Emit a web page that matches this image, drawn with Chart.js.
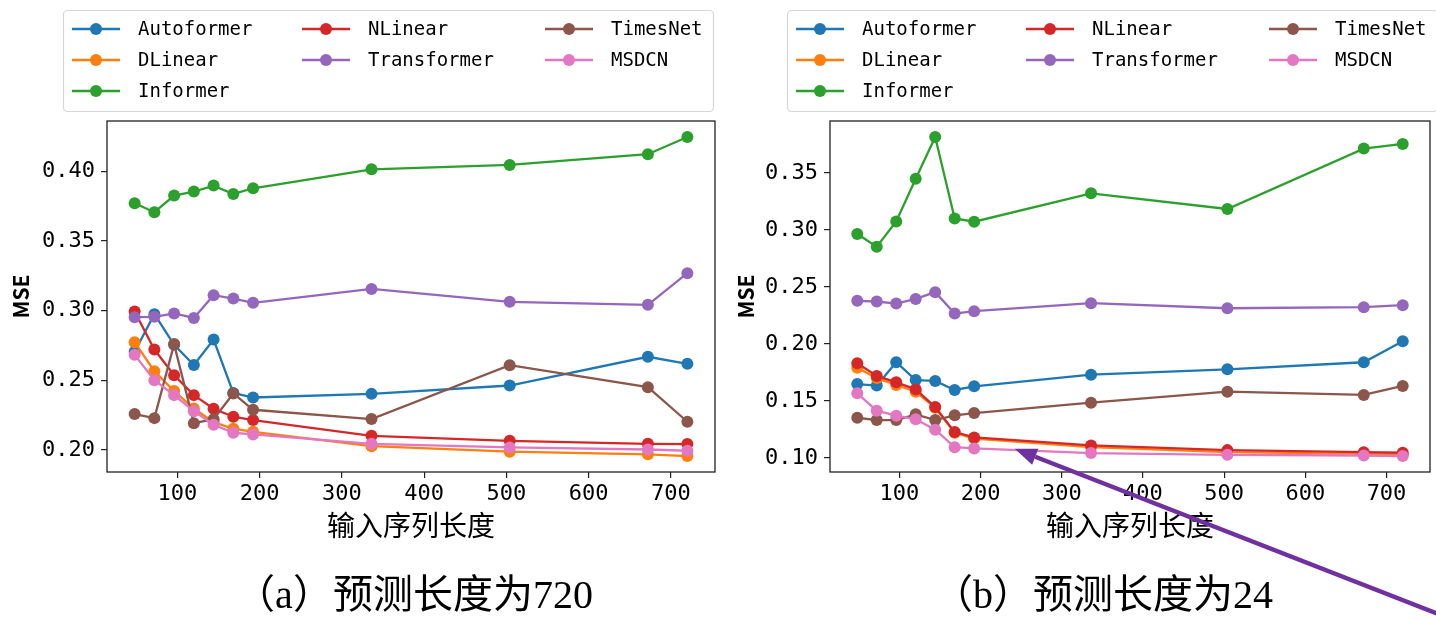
<!DOCTYPE html>
<html>
<head>
<meta charset="utf-8">
<script src="https://cdn.jsdelivr.net/npm/chart.js@4.4.0/dist/chart.umd.min.js"></script>
<style>
  html, body { margin: 0; padding: 0; background: #fff; }
  body { width: 1436px; height: 619px; position: relative; overflow: hidden; }
  .panel { position: absolute; top: 0; height: 619px; }
  #panelA { left: 0; width: 730px; }
  #panelB { left: 730px; width: 706px; }
</style>
</head>
<body>
<div class="panel" id="panelA"><canvas id="chartA" width="730" height="619"></canvas></div>
<div class="panel" id="panelB"><canvas id="chartB" width="706" height="619"></canvas></div>
<script>
const inputLengths = [48, 72, 96, 120, 144, 168, 192, 336, 504, 672, 720];
const modelNames = ['Autoformer', 'DLinear', 'Informer', 'NLinear', 'Transformer', 'TimesNet', 'MSDCN'];
const modelColors = ['#1f77b4', '#ff7f0e', '#2ca02c', '#d62728', '#9467bd', '#8c564b', '#e377c2'];
const xTicks = [100, 200, 300, 400, 500, 600, 700];
const yTicksA = [0.20, 0.25, 0.30, 0.35, 0.40];
const yTicksB = [0.10, 0.15, 0.20, 0.25, 0.30, 0.35];

// (a) prediction length 720
const autoformerA = [0.2705, 0.2975, 0.2755, 0.2610, 0.2793, 0.2410, 0.2377, 0.2403, 0.2463, 0.2669, 0.2619];
const dlinearA = [0.2774, 0.2566, 0.2423, 0.2298, 0.2200, 0.2153, 0.2131, 0.2028, 0.1988, 0.1969, 0.1957];
const informerA = [0.3770, 0.3706, 0.3826, 0.3854, 0.3897, 0.3837, 0.3878, 0.4014, 0.4045, 0.4122, 0.4246];
const nlinearA = [0.2994, 0.2721, 0.2537, 0.2394, 0.2296, 0.2239, 0.2215, 0.2102, 0.2066, 0.2045, 0.2043];
const transformerA = [0.2953, 0.2956, 0.2980, 0.2948, 0.3111, 0.3087, 0.3056, 0.3156, 0.3063, 0.3042, 0.3269];
const timesnetA = [0.2258, 0.2229, 0.2760, 0.2193, 0.2221, 0.2406, 0.2289, 0.2222, 0.2609, 0.2451, 0.2203];
const msdcnA = [0.2683, 0.2501, 0.2394, 0.2279, 0.2181, 0.2124, 0.2112, 0.2045, 0.2019, 0.2004, 0.1995];

// (b) prediction length 24
const autoformerB = [0.1648, 0.1634, 0.1839, 0.1683, 0.1675, 0.1596, 0.1628, 0.1730, 0.1777, 0.1839, 0.2023];
const dlinearB = [0.1790, 0.1700, 0.1640, 0.1580, 0.1440, 0.1220, 0.1170, 0.1095, 0.1050, 0.1035, 0.1030];
const informerB = [0.2964, 0.2852, 0.3075, 0.3450, 0.3816, 0.3101, 0.3072, 0.3321, 0.3184, 0.3714, 0.3755];
const nlinearB = [0.1830, 0.1719, 0.1663, 0.1601, 0.1446, 0.1226, 0.1179, 0.1109, 0.1068, 0.1050, 0.1045];
const transformerB = [0.2378, 0.2372, 0.2354, 0.2395, 0.2454, 0.2266, 0.2287, 0.2357, 0.2313, 0.2322, 0.2340];
const timesnetB = [0.1352, 0.1332, 0.1332, 0.1382, 0.1332, 0.1373, 0.1393, 0.1484, 0.1581, 0.1552, 0.1631];
const msdcnB = [0.1566, 0.1414, 0.1370, 0.1338, 0.1247, 0.1094, 0.1083, 0.1042, 0.1027, 0.1021, 0.1016];

const seriesA = [autoformerA, dlinearA, informerA, nlinearA, transformerA, timesnetA, msdcnA];
const seriesB = [autoformerB, dlinearB, informerB, nlinearB, transformerB, timesnetB, msdcnB];

// matplotlib style 5% autoscale margins
function padRange(values) {
    const lo = Math.min(...values);
    const hi = Math.max(...values);
    const m = (hi - lo) * 0.05;
    return [lo - m, hi + m];
}

const tickFont = { family: '"DejaVu Sans Mono", monospace', size: 22 };
const legendFont = '19px "DejaVu Sans Mono", monospace';
const captionFont = '40px "Liberation Serif", "Noto Sans CJK SC", serif';

// column-major legend slots like matplotlib ncol=3 (7 items -> 3,2,2)
function legendSlots(n, ncol) {
    const base = Math.floor(n / ncol), extra = n % ncol;
    const slots = [];
    for (let c = 0; c < ncol; c++) {
        const count = base + (c < extra ? 1 : 0);
        for (let r = 0; r < count; r++) slots.push({ col: c, row: r });
    }
    return slots;
}

const decorPlugin = {
    id: 'decor',
    afterDatasetsDraw(chart) {
        const { ctx, chartArea } = chart;
        ctx.save();
        ctx.strokeStyle = '#222';
        ctx.lineWidth = 1.3;
        ctx.strokeRect(chartArea.left, chartArea.top, chartArea.right - chartArea.left, chartArea.bottom - chartArea.top);
        ctx.restore();
    },
    afterDraw(chart, args, opts) {
        const ctx = chart.ctx;
        ctx.save();

        // legend box
        const bx = opts.legendLeft, by = 10, bw = 650, bh = 101;
        ctx.fillStyle = 'rgba(255,255,255,0.8)';
        ctx.strokeStyle = '#d6d6d6';
        ctx.lineWidth = 1.2;
        ctx.beginPath();
        ctx.roundRect(bx + 0.5, by + 0.5, bw, bh, 4);
        ctx.fill();
        ctx.stroke();

        const colStart = [9, 239, 482];
        const slots = legendSlots(chart.data.datasets.length, 3);
        ctx.font = legendFont;
        ctx.textBaseline = 'middle';
        ctx.textAlign = 'left';
        chart.data.datasets.forEach((ds, i) => {
            const x0 = bx + colStart[slots[i].col];
            const y0 = by + 19 + slots[i].row * 31;
            ctx.strokeStyle = ds.borderColor;
            ctx.lineWidth = 2.3;
            ctx.beginPath();
            ctx.moveTo(x0, y0);
            ctx.lineTo(x0 + 48, y0);
            ctx.stroke();
            ctx.fillStyle = ds.borderColor;
            ctx.beginPath();
            ctx.arc(x0 + 24, y0, 6, 0, Math.PI * 2);
            ctx.fill();
            ctx.fillStyle = '#000';
            ctx.fillText(ds.label, x0 + 66, y0 + 1);
        });

        // panel caption
        ctx.font = captionFont;
        ctx.fillStyle = '#000';
        ctx.textAlign = 'center';
        ctx.textBaseline = 'middle';
        ctx.fillText(opts.caption, opts.captionX, 597);

        // annotation arrow
        if (opts.arrow) {
            const tx = chart.scales.x.getPixelForValue(opts.arrow.x);
            const ty = chart.scales.y.getPixelForValue(opts.arrow.y);
            const ex = chart.width + 2;
            const ey = ty + (ex - tx) * opts.arrow.slope;
            const ang = Math.atan2(ey - ty, ex - tx);
            const hl = 22, hw = 8.5;
            const bxh = tx + Math.cos(ang) * hl, byh = ty + Math.sin(ang) * hl;
            ctx.strokeStyle = '#7030a0';
            ctx.fillStyle = '#7030a0';
            ctx.lineWidth = 4.5;
            ctx.beginPath();
            ctx.moveTo(bxh, byh);
            ctx.lineTo(ex, ey);
            ctx.stroke();
            ctx.beginPath();
            ctx.moveTo(tx, ty);
            ctx.lineTo(bxh - Math.sin(ang) * hw, byh + Math.cos(ang) * hw);
            ctx.lineTo(bxh + Math.sin(ang) * hw, byh - Math.cos(ang) * hw);
            ctx.closePath();
            ctx.fill();
        }
        ctx.restore();
    }
};

function buildChart(canvasId, series, yTicks, cfg) {
    const ctx = document.getElementById(canvasId).getContext('2d');
    const [xMin, xMax] = padRange(inputLengths);
    const [yMin, yMax] = padRange(series.flat());

    const datasets = series.map((vals, i) => ({
        label: modelNames[i],
        data: vals.map((v, j) => ({ x: inputLengths[j], y: v })),
        borderColor: modelColors[i],
        backgroundColor: modelColors[i],
        borderWidth: 2.3,
        pointRadius: 6,
        pointBorderWidth: 0,
        pointHoverRadius: 6,
        tension: 0,
        order: series.length - i
    }));

    return new Chart(ctx, {
        type: 'line',
        data: { datasets: datasets },
        plugins: [decorPlugin],
        options: {
            responsive: false,
            animation: false,
            devicePixelRatio: 1,
            clip: false,
            layout: {
                padding: { left: 0, top: 121, right: cfg.padRight, bottom: 67 }
            },
            plugins: {
                legend: { display: false },
                tooltip: { enabled: false },
                decor: {
                    legendLeft: cfg.legendLeft,
                    caption: cfg.caption,
                    captionX: cfg.captionX,
                    arrow: cfg.arrow
                }
            },
            scales: {
                x: {
                    type: 'linear',
                    min: xMin,
                    max: xMax,
                    afterBuildTicks: (scale) => { scale.ticks = xTicks.map(v => ({ value: v })); },
                    afterFit: (scale) => { scale.height = 80; },
                    border: { display: false },
                    grid: {
                        drawOnChartArea: false,
                        drawTicks: true,
                        tickLength: 6,
                        color: '#222',
                        lineWidth: 1.2
                    },
                    ticks: {
                        color: '#000',
                        font: tickFont,
                        padding: 3,
                        maxRotation: 0,
                        callback: (v) => String(v)
                    },
                    title: {
                        display: true,
                        text: '输入序列长度',
                        color: '#000',
                        font: { family: '"Noto Sans CJK SC", sans-serif', size: 28, lineHeight: 1.2 },
                        padding: { top: 0, bottom: 10 }
                    }
                },
                y: {
                    type: 'linear',
                    min: yMin,
                    max: yMax,
                    afterBuildTicks: (scale) => { scale.ticks = yTicks.map(v => ({ value: v })); },
                    afterFit: (scale) => { scale.width = cfg.yAxisWidth; },
                    border: { display: false },
                    grid: {
                        drawOnChartArea: false,
                        drawTicks: true,
                        tickLength: 6,
                        color: '#222',
                        lineWidth: 1.2
                    },
                    ticks: {
                        color: '#000',
                        font: tickFont,
                        padding: 6,
                        callback: (v) => v.toFixed(2)
                    },
                    title: {
                        display: true,
                        text: 'MSE',
                        color: '#000',
                        font: { family: '"Noto Sans CJK SC", sans-serif', size: 21, weight: 'bold', lineHeight: 1.2 },
                        padding: { top: cfg.titlePad, bottom: 0 }
                    }
                }
            }
        }
    });
}

buildChart('chartA', seriesA, yTicksA, {
    padRight: 15,
    yAxisWidth: 107,
    titlePad: 8,
    legendLeft: 63,
    caption: '（a）预测长度为720',
    captionX: 414,
    arrow: null
});

buildChart('chartB', seriesB, yTicksB, {
    padRight: -1,
    yAxisWidth: 100,
    titlePad: 3,
    legendLeft: 57,
    caption: '（b）预测长度为24',
    captionX: 373,
    arrow: { x: 242, y: 0.108, slope: 0.39 }
});
</script>
</body>
</html>
